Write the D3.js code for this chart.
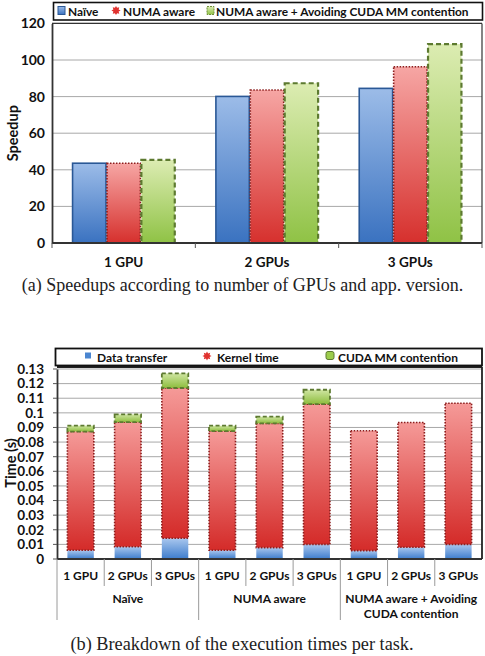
<!DOCTYPE html>
<html><head><meta charset="utf-8">
<script src="https://cdn.jsdelivr.net/npm/d3@7"></script>
<style>
html,body{margin:0;padding:0;background:#fff;}
svg{display:block;}
text{font-family:Lato,"Open Sans",sans-serif;font-weight:700;fill:#111;}
.cap{font-family:"Liberation Serif","DejaVu Serif",serif;font-weight:400;fill:#222;}
</style></head>
<body>
<svg id="c" width="485" height="656"></svg>
<script>
// ---------- data: chart (a) ----------
const speedupCategories = ["1 GPU", "2 GPUs", "3 GPUs"];
const speedupSeries = ["Naïve", "NUMA aware", "NUMA aware + Avoiding CUDA MM contention"];
const naiveSpeedup = [43.6, 80.1, 84.5];
const numaSpeedup = [43.6, 83.6, 96.3];
const avoidSpeedup = [45.4, 87.3, 108.7];
const speedupTicks = [0, 20, 40, 60, 80, 100, 120];

// ---------- data: chart (b) ----------
const breakdownGroups = ["Naïve", "NUMA aware", "NUMA aware + Avoiding|CUDA contention"];
const gpuLabels = ["1 GPU", "2 GPUs", "3 GPUs"];
const breakdownSeries = ["Data transfer", "Kernel time", "CUDA MM contention"];
const dataTransfer = [0.0060, 0.0084, 0.0142, 0.0060, 0.0078, 0.0100, 0.0057, 0.0080, 0.0100];
const kernelTime   = [0.0812, 0.0852, 0.1028, 0.0815, 0.0850, 0.0960, 0.0820, 0.0854, 0.0966];
const contention   = [0.0041, 0.0054, 0.0100, 0.0037, 0.0046, 0.0098, 0, 0, 0];
const timeTicks = [0, 0.01, 0.02, 0.03, 0.04, 0.05, 0.06, 0.07, 0.08, 0.09, 0.10, 0.11, 0.12, 0.13];

const svg = d3.select("#c");
const defs = svg.append("defs");
function grad(id, top, bottom) {
  const g = defs.append("linearGradient").attr("id", id).attr("x1", 0).attr("y1", 0).attr("x2", 0).attr("y2", 1);
  g.append("stop").attr("offset", "0%").attr("stop-color", top);
  g.append("stop").attr("offset", "100%").attr("stop-color", bottom);
}
grad("gBlue", "#9cbce8", "#3a72c0");
grad("gRed", "#f6a6a4", "#d6302d");
grad("gGreen", "#dcecb2", "#8fc245");
grad("gBlue2", "#a9c7ee", "#3d7ccc");
grad("gRed2", "#f59a98", "#d42b29");
grad("gGreen2", "#cfe5a2", "#8dbd3d");

const styles = [
  {fill: "url(#gBlue)", stroke: "#2a5896", dash: null, sw: 1.6},
  {fill: "url(#gRed)", stroke: "#8c1d1d", dash: "1.5,1.5", sw: 1.6},
  {fill: "url(#gGreen)", stroke: "#5d7a30", dash: "5,3", sw: 2.2}
];

function gearPath(cx, cy, r) {
  const pts = [];
  const n = 8;
  for (let i = 0; i < n * 2; i++) {
    const a = Math.PI * i / n;
    const rr = i % 2 === 0 ? r : r * 0.62;
    pts.push([cx + rr * Math.cos(a), cy + rr * Math.sin(a)]);
  }
  return d3.line().curve(d3.curveLinearClosed)(pts);
}

// one common font size so that no legend label exceeds its target width
function fitCommon(sel, widths, base) {
  let k = Infinity;
  sel.style("font-size", base + "px").each(function (d, i) {
    const w = this.getComputedTextLength();
    if (w > 0) k = Math.min(k, widths[i] / w);
  });
  if (isFinite(k)) sel.style("font-size", (base * k).toFixed(2) + "px");
}

// ================= chart (a) =================
(function () {
  const L = 52, R = 482, T = 23.4, B = 243;
  const x0 = d3.scaleBand().domain(speedupCategories).range([L, R]).paddingInner(0.28).paddingOuter(0.14);
  const x1 = d3.scaleBand().domain(speedupSeries).range([0, x0.bandwidth()]);
  const y = d3.scaleLinear().domain([0, 120]).range([B, T]);
  const g = svg.append("g");

  g.append("g").selectAll("line").data(speedupTicks.filter(d => d > 0)).join("line")
    .attr("x1", L).attr("x2", R).attr("y1", d => y(d)).attr("y2", d => y(d))
    .attr("stroke", "#a8a8a8").attr("stroke-width", 1);

  const series = [naiveSpeedup, numaSpeedup, avoidSpeedup];
  speedupSeries.forEach((s, si) => {
    const st = styles[si];
    g.append("g").selectAll("rect").data(series[si]).join("rect")
      .attr("x", (d, i) => x0(speedupCategories[i]) + x1(s) + 0.5)
      .attr("width", x1.bandwidth() - 1)
      .attr("y", d => y(d))
      .attr("height", d => B - y(d))
      .attr("fill", st.fill).attr("stroke", st.stroke).attr("stroke-width", st.sw)
      .attr("stroke-dasharray", st.dash);
  });

  const ya = g.append("g").attr("transform", `translate(${L},0)`)
    .call(d3.axisLeft(y).tickValues(speedupTicks).tickSize(0).tickPadding(7));
  ya.select(".domain").attr("stroke", "#333").attr("stroke-width", 1.8);
  ya.selectAll("text").style("font-size", "14px").style("font-family", "Lato,sans-serif").style("font-weight", 700).attr("fill", "#111");

  const xa = g.append("g").attr("transform", `translate(0,${B})`)
    .call(d3.axisBottom(x0).tickSize(0).tickPadding(14));
  xa.select(".domain").remove();
  xa.selectAll("text").style("font-size", "13.5px").style("font-family", "Lato,sans-serif").style("font-weight", 700).attr("fill", "#111");
  g.append("line").attr("x1", L).attr("x2", R).attr("y1", B).attr("y2", B).attr("stroke", "#333").attr("stroke-width", 1.8);
  const bx = [L].concat(speedupCategories.slice(1).map(c => x0(c) - x0.step() * x0.paddingInner() / 2)).concat([R]);
  g.append("g").selectAll("line").data(bx).join("line")
    .attr("x1", d => d).attr("x2", d => d).attr("y1", B).attr("y2", B + 5)
    .attr("stroke", "#555").attr("stroke-width", 1);
  g.append("line").attr("x1", L).attr("x2", R).attr("y1", T).attr("y2", T).attr("stroke", "#333").attr("stroke-width", 1.2);
  g.append("line").attr("x1", R).attr("x2", R).attr("y1", T).attr("y2", B).attr("stroke", "#333").attr("stroke-width", 1.2);

  g.append("text").attr("transform", `translate(14,${(T + B) / 2}) rotate(-90)`)
    .attr("text-anchor", "middle").attr("dominant-baseline", "middle")
    .style("font-size", "14.5px").text("Speedup");

  // legend
  g.append("rect").attr("x", 53.5).attr("y", 2.5).attr("width", 429).attr("height", 17.5)
    .attr("fill", "#fff").attr("stroke", "#111").attr("stroke-width", 1.6);
  const lx = [58, 112, 206];
  const tx = [68, 123, 216];
  const tw = [37, 72, 262];
  g.append("rect").attr("x", lx[0]).attr("y", 6.5).attr("width", 7).attr("height", 8)
    .attr("fill", "url(#gBlue)").attr("stroke", "#2a5896").attr("stroke-width", 1);
  g.append("path").attr("d", gearPath(lx[1] + 4, 10.5, 4.6)).attr("fill", "#e0322f");
  g.append("rect").attr("x", lx[2] + 1).attr("y", 6.5).attr("width", 7).attr("height", 8)
    .attr("fill", "url(#gGreen)").attr("stroke", "#6f8f3a").attr("stroke-width", 1).attr("stroke-dasharray", "2,1");
  const lt = g.append("g").selectAll("text").data(speedupSeries).join("text")
    .attr("x", (d, i) => tx[i]).attr("y", 15.5).text(d => d);
  fitCommon(lt, tw, 14);
})();

// ================= chart (b) =================
(function () {
  const L = 57, R = 482, B = 559;
  const y = d3.scaleLinear().domain([0, 0.13]).range([B, 369]);
  const T = y(0.13) - 2;
  const keys = d3.range(dataTransfer.length);
  const x = d3.scaleBand().domain(keys).range([L, R]).paddingInner(0.44).paddingOuter(0.22);
  const g = svg.append("g");

  g.append("g").selectAll("line").data(timeTicks.filter(d => d > 0)).join("line")
    .attr("x1", L).attr("x2", R).attr("y1", d => y(d)).attr("y2", d => y(d))
    .attr("stroke", "#a8a8a8").attr("stroke-width", 1);

  const rows = keys.map(i => ({i, t: dataTransfer[i], k: kernelTime[i], c: contention[i]}));
  const stack = d3.stack().keys(["t", "k", "c"])(rows);
  const st2 = [
    {fill: "url(#gBlue2)", stroke: "none", dash: null, sw: 0},
    {fill: "url(#gRed2)", stroke: "#8c1d1d", dash: "1.5,1.5", sw: 1.6},
    {fill: "url(#gGreen2)", stroke: "#5d7a30", dash: "4,2.5", sw: 1.8}
  ];
  stack.forEach((layer, li) => {
    const s = st2[li];
    g.append("g").selectAll("rect").data(layer.filter(d => d[1] - d[0] > 0)).join("rect")
      .attr("x", d => x(d.data.i)).attr("width", x.bandwidth())
      .attr("y", d => y(d[1])).attr("height", d => y(d[0]) - y(d[1]))
      .attr("fill", s.fill).attr("stroke", s.stroke).attr("stroke-width", s.sw)
      .attr("stroke-dasharray", s.dash);
  });

  const ya = g.append("g").attr("transform", `translate(${L},0)`)
    .call(d3.axisLeft(y).tickValues(timeTicks).tickSize(0).tickPadding(13)
      .tickFormat(d => d === 0 ? "0" : String(+d.toFixed(2))));
  ya.select(".domain").attr("stroke", "#333").attr("stroke-width", 1.8);
  ya.selectAll("text").style("font-size", "13.5px").style("font-family", "Lato,sans-serif").style("font-weight", 700).attr("fill", "#111");
  g.append("g").selectAll("line").data(timeTicks).join("line")
    .attr("x1", L - 4).attr("x2", L).attr("y1", d => y(d)).attr("y2", d => y(d))
    .attr("stroke", "#555");

  g.append("line").attr("x1", L).attr("x2", R).attr("y1", B).attr("y2", B).attr("stroke", "#333").attr("stroke-width", 2);
  g.append("line").attr("x1", L).attr("x2", R).attr("y1", T).attr("y2", T).attr("stroke", "#222").attr("stroke-width", 1.8);
  g.append("line").attr("x1", R).attr("x2", R).attr("y1", T).attr("y2", B).attr("stroke", "#222").attr("stroke-width", 1.8);

  g.append("g").selectAll("text").data(keys).join("text")
    .attr("x", i => x(i) + x.bandwidth() / 2).attr("y", 580).attr("text-anchor", "middle")
    .style("font-size", "12px").text(i => gpuLabels[i % 3]);
  const step = x.step();
  const sepX = d3.range(10).map(j => L + j * step);
  g.append("g").selectAll("line").data(sepX.slice(0, 9)).join("line")
    .attr("x1", d => d).attr("x2", d => d).attr("y1", B)
    .attr("y2", (d, j) => j % 3 === 0 ? 620 : 586)
    .attr("stroke", "#9a9a9a").attr("stroke-width", 1);
  g.append("g").selectAll("text").data(breakdownGroups).join("text")
    .attr("text-anchor", "middle")
    .attr("transform", (d, gi) => `translate(${L + (gi * 3 + 1.5) * step},603)`)
    .style("font-size", "12px")
    .each(function (d) {
      const parts = d.split("|");
      d3.select(this).selectAll("tspan").data(parts).join("tspan")
        .attr("x", 0).attr("dy", (p, k) => k === 0 ? 0 : 15).text(p => p);
    });

  g.append("text").attr("transform", `translate(12,${(T + B) / 2}) rotate(-90)`)
    .attr("text-anchor", "middle").attr("dominant-baseline", "middle")
    .style("font-size", "14.5px").text("Time (s)");

  // legend
  g.append("rect").attr("x", 55.5).attr("y", 348.5).attr("width", 426.5).attr("height", 17)
    .attr("fill", "#fff").attr("stroke", "#111").attr("stroke-width", 1.8);
  const lx = [85, 203, 326];
  const tx = [97, 217, 338];
  const tw = [80, 70, 120];
  g.append("rect").attr("x", lx[0]).attr("y", 352.5).attr("width", 6).attr("height", 6).attr("fill", "#4a85d0");
  g.append("path").attr("d", gearPath(lx[1] + 4, 356, 4.5)).attr("fill", "#e0322f");
  g.append("rect").attr("x", lx[2]).attr("y", 351.5).attr("width", 8).attr("height", 8).attr("rx", 2)
    .attr("fill", "#9ccc4c").attr("stroke", "#5d7a30").attr("stroke-width", 1);
  const lt = g.append("g").selectAll("text").data(breakdownSeries).join("text")
    .attr("x", (d, i) => tx[i]).attr("y", 361.5).text(d => d);
  fitCommon(lt, tw, 14);
})();

// captions
svg.append("text").attr("class", "cap").attr("x", 242.5).attr("y", 291).attr("text-anchor", "middle")
  .style("font-size", "18px").text("(a) Speedups according to number of GPUs and app. version.");
svg.append("text").attr("class", "cap").attr("x", 242).attr("y", 650).attr("text-anchor", "middle")
  .style("font-size", "18.3px").text("(b) Breakdown of the execution times per task.");
</script>
</body></html>
